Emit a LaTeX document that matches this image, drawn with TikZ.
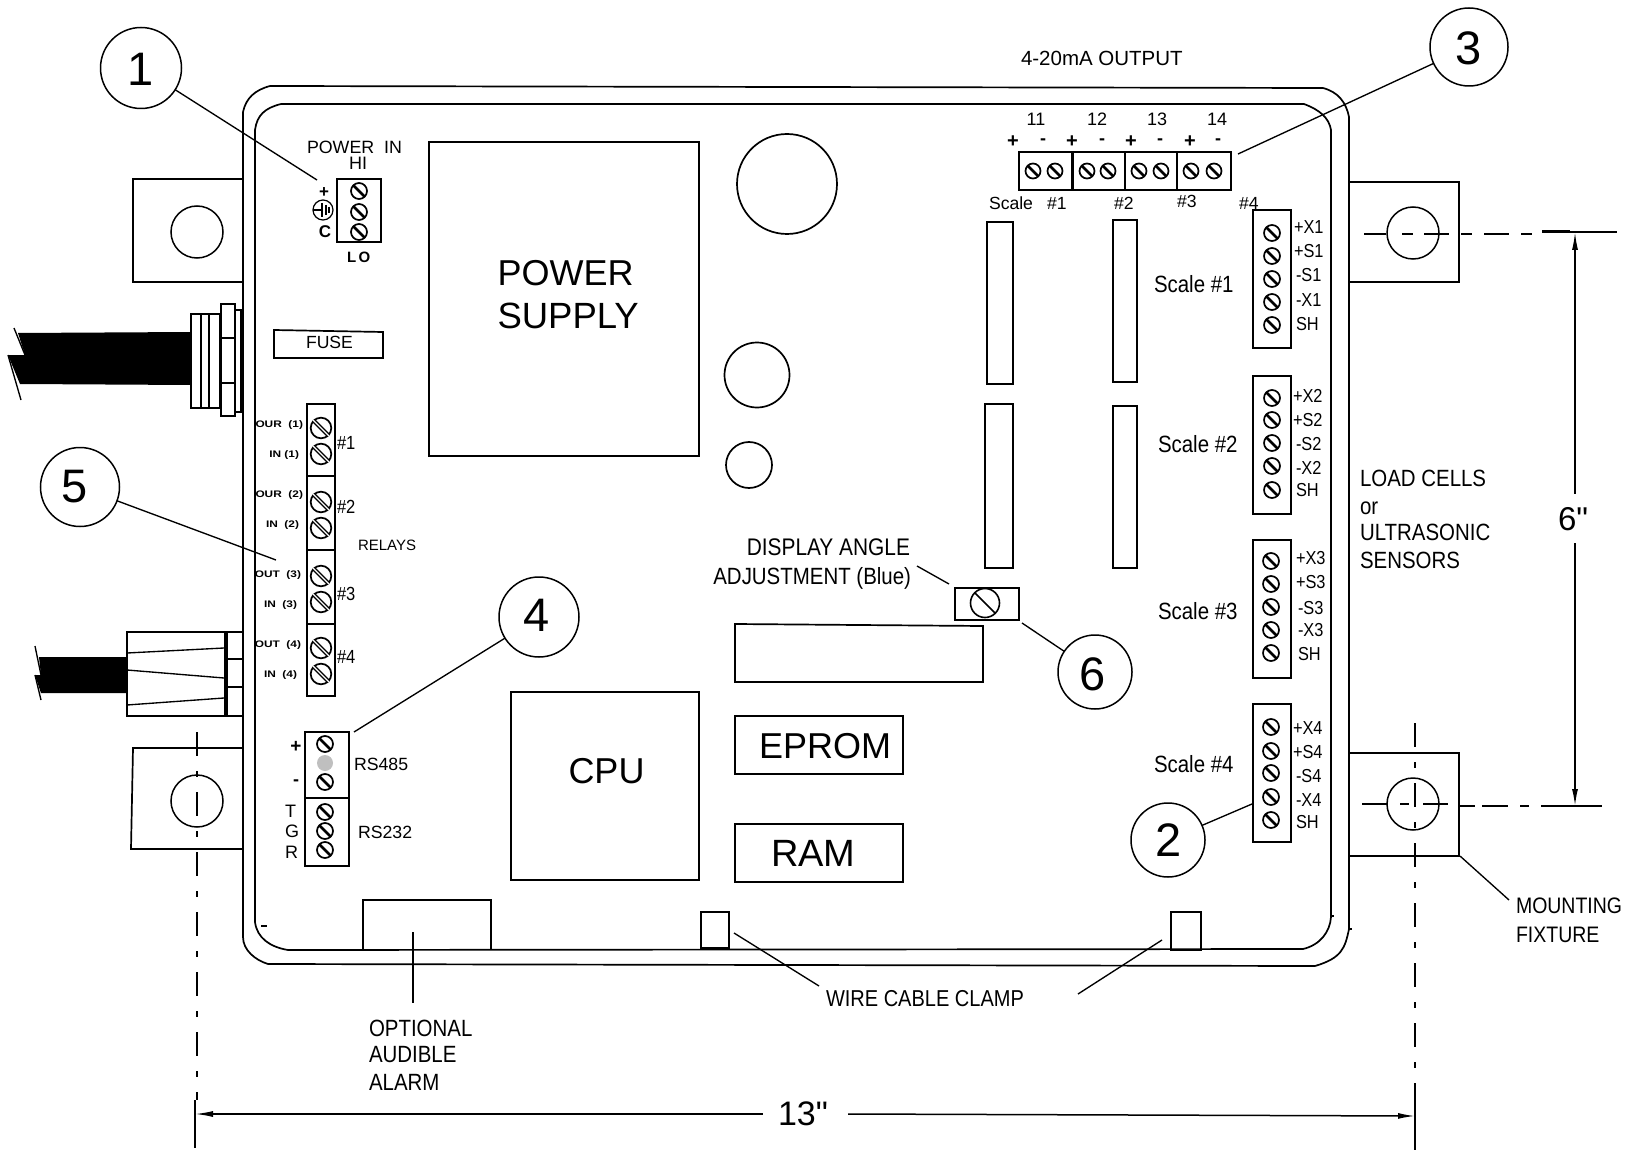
\documentclass[tikz,border=0pt]{standalone}
\usepackage{fontspec}
\setmainfont{Liberation Sans}[Ligatures=TeXOff]
\newfontfamily\condf{Liberation Sans}[FakeStretch=0.87,Ligatures=TeXOff]
\usetikzlibrary{arrows.meta}
\newcommand{\fs}[1]{\fontsize{#1}{#1}\selectfont}
\newcommand{\screwat}[3]{%
  \draw[scr] (#1,#2) circle[radius=#3];
  \draw[scrslash] (#1-#3*.72,#2-#3*.72) -- (#1+#3*.72,#2+#3*.72);}
\newcommand{\relayscrew}[2]{%
  \draw[scr] (#1,#2) circle[radius=10.3];
  \draw[line width=4pt] (#1-7.8,#2-7.8) -- (#1+7.8,#2+7.8);
  \draw[line width=1.3pt,white] (#1-7.8,#2-7.8) -- (#1+7.8,#2+7.8);}
\newcommand{\lab}[6][base west]{\node[txt,anchor=#1,font=\fs{#5}] (#2) at (#3,#4) {#6};}
\newcommand{\labc}[6][base west]{\node[txt,anchor=#1,font=\condf\fs{#5}] (#2) at (#3,#4) {#6};}
\newcommand{\rlab}[4]{\node[txt,anchor=east,font=\fs{9.5}\bfseries] (#1) at (#2,#3) {\scalebox{1.25}[1]{#4}};}
\begin{document}
\begin{tikzpicture}[x=1pt,y=-1pt,line join=miter,
  txt/.style={inner sep=0pt,outer sep=0pt,text=black},
  wall/.style={line width=1.7pt},
  box/.style={line width=1.7pt},
  leader/.style={line width=1.35pt},
  scr/.style={line width=1.7pt,fill=white},
  scrslash/.style={line width=2.7pt},
  callout/.style={circle,draw,line width=1.5pt,minimum size=#1,inner sep=0pt,outer sep=0pt},
  centre/.style={line width=1.5pt},
  arr/.style={line width=1.5pt}]
\useasboundingbox (0,0) rectangle (1627,1150);
% upper cable
\fill (18,333) -- (191,332) -- (191,385) -- (20,384) -- (8,355) -- (25,355) -- cycle;
\draw[leader] (14,328) -- (25,355) (8,355) -- (21,400);
\draw[box] (191,314) rectangle (220,408) (201,314) -- (201,408) (209,314) -- (209,408);
\draw[box] (221,304) rectangle (235,416) (221,338) -- (235,338) (221,383) -- (235,383);
\draw[box] (235,310) rectangle (241,412);
% lower cable
\fill (39,657) -- (127,657) -- (127,693) -- (41,693) -- (35,675) -- (41,675) -- cycle;
\draw[leader] (35,646) -- (41,675) (35,675) -- (41,700);
\draw[box] (127,632) rectangle (225,716);
\draw[leader] (127,653) -- (224,648) (127,670) -- (224,678) (127,705) -- (224,698);
\draw[line width=3pt] (226,632) -- (226,716);
\draw[box] (226,632) -- (243,632) (226,659) -- (243,659) (226,687) -- (243,687) (226,716) -- (243,716);
% mounting ears
\draw[box] (243,179) -- (133,179) -- (133,282) -- (243,282);
\draw[box] (243,748) -- (133,748) -- (131,849) -- (243,849);
\draw[box] (1349,182) -- (1459,182) -- (1459,282) -- (1349,282);
\draw[box] (1349,753) -- (1459,753) -- (1459,856) -- (1349,856);
\draw[centre] (197,232) circle[radius=26];
\draw[centre] (197,801) circle[radius=26];
\draw[centre] (1413,233) circle[radius=26];
\draw[centre] (1413,804) circle[radius=26];
% housing
\draw[wall] (243,112) .. controls (246,98) and (255,90) .. (270,86) -- (1323,88)
  .. controls (1338,92) and (1346,102) .. (1349,117) -- (1349,929)
  .. controls (1345,948) and (1342,958) .. (1315,966) -- (268,964)
  .. controls (255,960) and (243,950) .. (243,937) -- cycle;
\draw[wall] (255,130) .. controls (257,115) and (265,108) .. (281,104) -- (1304,104)
  .. controls (1320,110) and (1329,118) .. (1331,130) -- (1331,917)
  .. controls (1330,932) and (1320,945) .. (1303,949) -- (288,950)
  .. controls (270,947) and (257,938) .. (255,922) -- cycle;
\draw[leader] (1331,916) -- (1334,916) (1349,929) -- (1352,929) (261,926) -- (267,926);
% centre lines
\draw[centre,dash pattern=on 24pt off 15pt on 6pt off 15pt] (197,732) -- (197,1100);
\draw[centre] (195,1100) -- (195,1148);
\draw[centre,dash pattern=on 24pt off 15pt on 6pt off 15pt] (1415,723) -- (1415,1083);
\draw[centre] (1415,1083) -- (1415,1150);
\draw[centre,dash pattern=on 22pt off 16pt on 11pt off 11pt on 25pt off 12pt on 11pt off 12pt on 25pt off 12pt on 11pt off 40pt] (1364,234) -- (1532,234);
\draw[line width=3pt] (1542,232) -- (1570,232);
\draw[centre] (1570,232) -- (1617,232);
\draw[centre,dash pattern=on 25pt off 13pt on 9pt off 14pt on 25pt off 40pt] (1362,804) -- (1448,804);
\draw[centre,dash pattern=on 16pt off 7pt on 26pt off 12pt on 9pt off 12pt on 61pt off 10pt] (1459,806) -- (1602,806);
% dimensions
\coordinate (dimL) at (195,1114); \coordinate (dimLe) at (763,1114);
\coordinate (dimR) at (1415,1116); \coordinate (dimRs) at (848,1114);
\coordinate (dimT) at (1575,232); \coordinate (dimTe) at (1575,494);
\coordinate (dimB) at (1575,806); \coordinate (dimBe) at (1575,543);
\draw[arr,{Latex[length=18pt,width=6pt]}-] (dimL) -- (dimLe);
\draw[arr,{Latex[length=17pt,width=6pt]}-] (dimR) -- (dimRs);
\draw[arr,{Latex[length=18pt,width=6pt]}-] (dimT) -- (dimTe);
\draw[arr,{Latex[length=17pt,width=6pt]}-] (dimB) -- (dimBe);
\lab{d13}{778}{1125}{34}{13"}
\lab{d6}{1558}{530}{33}{6"}
% big components
\draw[box] (429,142) rectangle (699,456);
\lab{pw}{497.5}{285}{36}{POWER}
\lab{sp}{497.5}{328}{36.5}{SUPPLY}
\draw[box] (787,184) circle[radius=50];
\draw[box] (757,375) circle[radius=32.5];
\draw[box] (749,465) circle[radius=23];
\draw[box] (511,692) rectangle (699,880);
\lab{cpu}{568.5}{783}{36}{CPU}
\draw[box] (735,716) rectangle (903,774);
\lab{eprom}{759}{758}{36}{EPROM}
\draw[box] (735,824) rectangle (903,882);
\lab{ram}{771}{866}{38}{RAM}
\draw[box] (735,624) -- (983,626) -- (983,682) -- (735,682) -- cycle;
\draw[box] (274,330) -- (383,332) -- (383,358) -- (274,358) -- cycle;
\lab{fuse}{306}{348}{17.6}{FUSE}
\draw[box] (987,222) rectangle (1013,384);
\draw[box] (1113,220) rectangle (1137,382);
\draw[box] (985,404) rectangle (1013,568);
\draw[box] (1113,406) rectangle (1137,568);
\draw[box] (701,912) rectangle (729,948);
\draw[box] (1171,912) rectangle (1201,950);
\draw[box] (363,950) -- (363,900) -- (491,900) -- (491,950);
% display angle
\draw[box] (955,588) rectangle (1019,620);
\draw[line width=1.6pt] (985,603) circle[radius=14.5];
\draw[line width=1.6pt] (975,593) -- (995,613);
\labc[base east]{da1}{910}{555}{24}{DISPLAY ANGLE}
\labc[base east]{da2}{911}{584}{23.5}{ADJUSTMENT (Blue)}
\coordinate (daA) at (917,566); \coordinate (daB) at (949,584);
\draw[leader] (daA) -- (daB);
% power in
\lab{pwrin}{307}{154}{17.8}{POWER\ \ IN}
\lab[base]{hi}{358}{170}{18}{HI}
\draw[box] (337,179) rectangle (381,242);
\foreach \yy in {191,212,232} {\screwat{359}{\yy}{8}}
\node[txt,font=\fs{17}\bfseries] (plus) at (324,193) {+};
\draw[line width=1.2pt] (323,210) circle[radius=10];
\draw[line width=1.2pt] (313,210) -- (322,210) (322,203) -- (322,217) (326,205) -- (326,215) (329,207) -- (329,213);
\lab[base]{cc}{325}{238}{17}{\bfseries C}
\lab{lo}{347}{262}{15}{\bfseries L\,O}
% relays
\draw[box] (307,404) rectangle (335,696) (307,476) -- (335,476) (307,550) -- (335,550) (307,624) -- (335,624);
\foreach \yy in {428,454,502,528,576,602,648,674} {\relayscrew{321}{\yy}}
\labc{r1}{337}{449}{19}{\#1}
\labc{r2}{337}{513}{19}{\#2}
\labc{r3}{337}{600}{19}{\#3}
\labc{r4}{337}{663}{19}{\#4}
\lab{relays}{358}{550}{15}{RELAYS}
\rlab{ro1}{303}{425}{OUR\ \ (1)}
\rlab{ri1}{299}{455}{IN (1)}
\rlab{ro2}{303}{495}{OUR\ \ (2)}
\rlab{ri2}{299}{525}{IN\ \ (2)}
\rlab{ro3}{301}{575}{OUT\ \ (3)}
\rlab{ri3}{297}{605}{IN\ \ (3)}
\rlab{ro4}{301}{645}{OUT\ \ (4)}
\rlab{ri4}{297}{675}{IN\ \ (4)}
% comms
\draw[box] (305,732) rectangle (349,866) (305,798) -- (349,798);
\foreach \yy in {744,782,812,831,850} {\screwat{325}{\yy}{8}}
\fill[black!25] (325,763) circle[radius=8];
\node[txt,font=\fs{19}\bfseries] (cp) at (296,747) {+};
\node[txt,font=\fs{18}\bfseries] (cm) at (296,783) {-};
\lab{ct}{285}{817}{18}{T}
\lab{cg}{285}{837}{18}{G}
\lab{cr}{285}{858}{18}{R}
\lab{rs485}{354}{770}{17.7}{RS485}
\lab{rs232}{358}{838}{17.7}{RS232}
% 4-20 mA block
\lab{out}{1021}{66}{20.5}{4-20mA OUTPUT}
\draw[box] (1019,152) rectangle (1231,190) (1125,152) -- (1125,190) (1177,152) -- (1177,190);
\draw[line width=3pt] (1072,152) -- (1072,190);
\foreach \xx in {1033,1055,1087,1108,1139,1161,1191,1214} {\screwat{\xx}{171}{7.5}}
\lab[base]{n11}{1036}{126}{18}{11}
\lab[base]{n12}{1097}{126}{18}{12}
\lab[base]{n13}{1157}{126}{18}{13}
\lab[base]{n14}{1217}{126}{18}{14}
\foreach \xx/\nn in {1013/a,1072/b,1131/c,1190/d} {\node[txt,font=\fs{20}\bfseries] (p\nn) at (\xx,142) {+};}
\foreach \xx/\nn in {1043/a,1102/b,1160/c,1218/d} {\node[txt,font=\fs{18}\bfseries] (m\nn) at (\xx,142) {-};}
\lab{sc}{989}{210}{17.6}{Scale}
\lab{s1}{1047}{210}{17.6}{\#1}
\lab{s2}{1114}{210}{17.6}{\#2}
\lab{s3}{1177}{208}{17.6}{\#3}
\lab{s4}{1239}{210}{17.6}{\#4}
% scale blocks
\draw[box] (1253,210) rectangle (1291,348);
\draw[box] (1253,376) rectangle (1291,514);
\draw[box] (1253,540) rectangle (1291,678);
\draw[box] (1253,704) rectangle (1291,842);
\foreach \yy in {233,256,279,302,325,398,420,443,466,490} {\screwat{1272}{\yy}{8}}
\foreach \yy in {561,584,607,630,653,727,751,773,797,820} {\screwat{1271}{\yy}{8}}
\foreach \xx/\yy/\ttx/\nn in {1294/234/+X1/a1,1294/258/+S1/a2,1296/282/-S1/a3,1296/306/-X1/a4,1296/330/SH/a5,
  1293/402/+X2/b1,1293/426/+S2/b2,1296/450/-S2/b3,1296/474/-X2/b4,1296/496/SH/b5,
  1296/564/+X3/c1,1296/588/+S3/c2,1298/614/-S3/c3,1298/636/-X3/c4,1298/660/SH/c5,
  1293/734/+X4/d1,1293/758/+S4/d2,1296/782/-S4/d3,1296/806/-X4/d4,1296/828/SH/d5}
  {\node[txt,anchor=base west,font=\condf\fs{18.8}] (t\nn) at (\xx,\yy) {\ttx};}
\labc{sc1}{1154}{292}{23.5}{Scale \#1}
\labc{sc2}{1158}{452}{23.5}{Scale \#2}
\labc{sc3}{1158}{619}{23.5}{Scale \#3}
\labc{sc4}{1154}{772}{23.5}{Scale \#4}
\labc{lc1}{1360}{486}{23.5}{LOAD CELLS}
\labc{lc2}{1360}{514}{23.5}{or}
\labc{lc3}{1360}{540}{23.5}{ULTRASONIC}
\labc{lc4}{1360}{568}{23.5}{SENSORS}
\labc{mf1}{1516}{913}{22.4}{MOUNTING}
\labc{mf2}{1516}{942}{22.4}{FIXTURE}
\coordinate (mfA) at (1460,856); \coordinate (mfB) at (1509,900);
\draw[leader] (mfA) -- (mfB);
% alarm, clamps
\labc{al1}{369}{1036}{23.5}{OPTIONAL}
\labc{al2}{369}{1062}{23.5}{AUDIBLE}
\labc{al3}{369}{1090}{23.5}{ALARM}
\coordinate (alA) at (413,932); \coordinate (alB) at (413,1003);
\draw[leader] (alA) -- (alB);
\labc{wc}{826}{1006}{23}{WIRE CABLE CLAMP}
\coordinate (wcA) at (734,933); \coordinate (wcB) at (819,986);
\coordinate (wcC) at (1162,940); \coordinate (wcD) at (1078,994);
\draw[leader] (wcA) -- (wcB);
\draw[leader] (wcC) -- (wcD);
% callouts
\node[callout=81pt] (c1) at (141,68) {};
\node[callout=74pt] (c2) at (1168,840) {};
\node[callout=78pt] (c3) at (1469,47) {};
\node[callout=80pt] (c4) at (539,617) {};
\node[callout=79pt] (c5) at (80,487) {};
\node[callout=74pt] (c6) at (1095,672) {};
\lab[base]{n1}{141}{86}{47}{1}
\lab[base]{n2}{1169}{856}{47}{2}
\lab[base]{n3}{1469}{65}{47}{3}
\lab[base]{n4}{537}{631}{47}{4}
\lab[base]{n5}{75}{502}{47}{5}
\lab[base]{n6}{1093}{690}{47}{6}
\coordinate (e1) at (317,180);
\coordinate (e2) at (1252,804);
\coordinate (e3) at (1238,154);
\coordinate (e4) at (354,732);
\coordinate (e5) at (276,560);
\coordinate (e6) at (1022,623);
\draw[leader] (c1) -- (e1);
\draw[leader] (c2) -- (e2);
\draw[leader] (c3) -- (e3);
\draw[leader] (c4) -- (e4);
\draw[leader] (c5) -- (e5);
\draw[leader] (c6) -- (e6);
\end{tikzpicture}
\end{document}
